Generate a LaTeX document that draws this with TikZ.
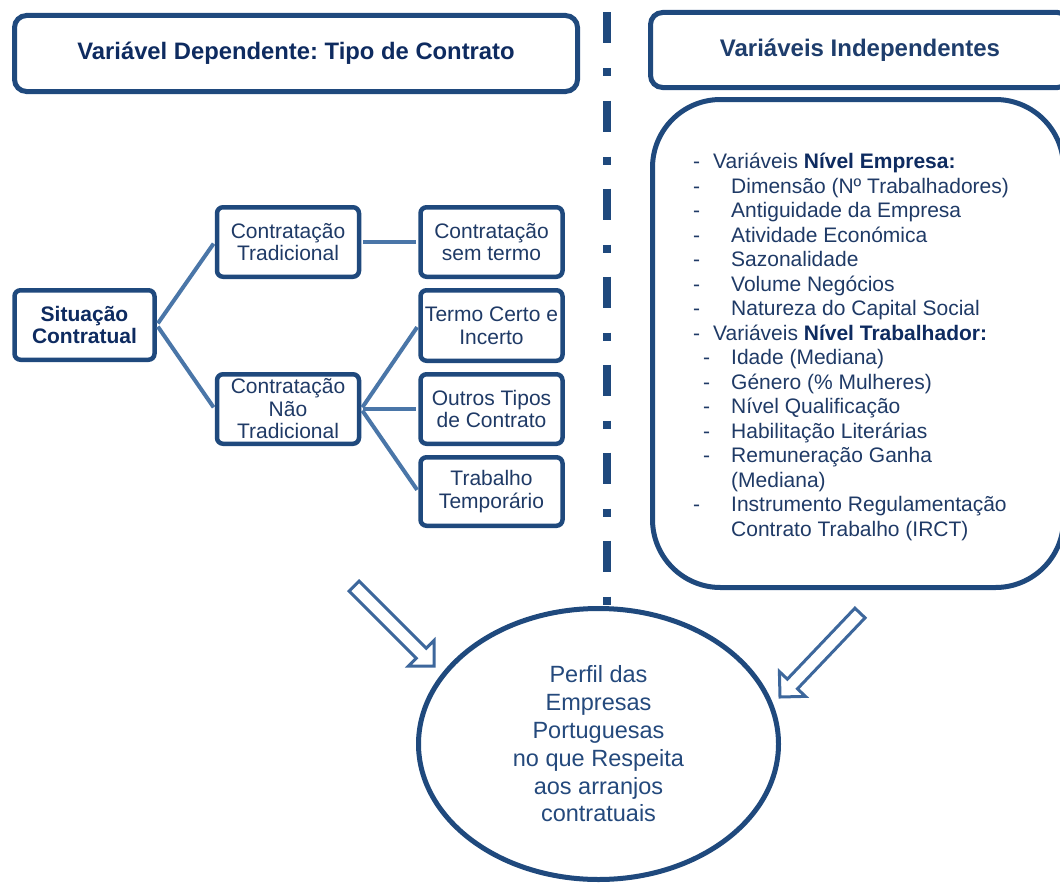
\documentclass[tikz,border=0pt]{standalone}
\usepackage{fontspec}
\setmainfont{Liberation Sans}
\usetikzlibrary{shapes.geometric}
\definecolor{boxblue}{HTML}{1F497D}
\definecolor{connblue}{HTML}{4A76A8}
\definecolor{hdrtext}{HTML}{0E2B60}
\definecolor{hdrtexttwo}{HTML}{1E3D6C}
\definecolor{bodytext}{HTML}{1F3A66}
\definecolor{elltext}{HTML}{24497C}
\definecolor{arrowblue}{HTML}{3D679C}
\frenchspacing
\begin{document}
\begin{tikzpicture}[x=1pt,y=-1pt,
  hdr/.style={draw=boxblue, line width=5pt, rounded corners=12pt, fill=white, inner sep=0pt},
  tbox/.style={draw=boxblue, line width=4.5pt, rounded corners=6pt, fill=white, inner sep=0pt, align=center, text=bodytext, minimum width=142pt, minimum height=69.5pt, font=\fontsize{21}{22.7}\selectfont},
  conn/.style={draw=connblue, line width=4pt, shorten <=2pt, shorten >=2pt},
  hollow/.style={draw=arrowblue, line width=3pt, fill=white, line join=miter},
  dashdot/.style={draw=boxblue, line width=8.5pt, dash pattern=on 31pt off 25pt on 8pt off 24pt},
]
\useasboundingbox (0,0) rectangle (1060,883);

% headers
\node[hdr, text=hdrtext, minimum width=563pt, minimum height=76pt, font=\fontsize{23.8}{27}\selectfont\bfseries] (hl) at (296,53.5) {Variável Dependente: Tipo de Contrato};
\node[hdr, text=hdrtexttwo, minimum width=419pt, minimum height=75pt, font=\fontsize{24}{27}\selectfont\bfseries] (hr) at (860,50) {Variáveis Independentes};

% independent variables box
\node[draw=boxblue, line width=5pt, rounded corners=68pt, fill=white, inner sep=0pt, minimum width=411pt, minimum height=488pt] (ind) at (858,343.5) {};
\node[anchor=north west, inner sep=0pt, align=left, text=bodytext, font=\fontsize{21}{24.5}\selectfont] (lst) at (693,153) {%
\makebox[20pt][l]{-}Variáveis \textbf{\color{hdrtext}Nível Empresa:}\\
\makebox[38pt][l]{-}Dimensão (Nº Trabalhadores)\\
\makebox[38pt][l]{-}Antiguidade da Empresa\\
\makebox[38pt][l]{-}Atividade Económica\\
\makebox[38pt][l]{-}Sazonalidade\\
\makebox[38pt][l]{-}Volume Negócios\\
\makebox[38pt][l]{-}Natureza do Capital Social\\
\makebox[20pt][l]{-}Variáveis \textbf{\color{hdrtext}Nível Trabalhador:}\\
\hspace*{10pt}\makebox[28pt][l]{-}Idade (Mediana)\\
\hspace*{10pt}\makebox[28pt][l]{-}Género (\% Mulheres)\\
\hspace*{10pt}\makebox[28pt][l]{-}Nível Qualificação\\
\hspace*{10pt}\makebox[28pt][l]{-}Habilitação Literárias\\
\hspace*{10pt}\makebox[28pt][l]{-}Remuneração Ganha\\
\hspace*{38pt}(Mediana)\\
\makebox[38pt][l]{-}Instrumento Regulamentação\\
\hspace*{38pt}Contrato Trabalho (IRCT)};

% tree
\node[tbox, minimum width=140pt, text=hdrtext, font=\fontsize{21}{22.5}\selectfont\bfseries] (sit) at (84.5,325) {Situação\\Contratual};
\node[tbox] (ct) at (288,242) {Contratação\\Tradicional};
\node[tbox] (st) at (491.5,242) {Contratação\\sem termo};
\node[tbox, minimum height=70.5pt] (tc) at (491.5,325.5) {Termo Certo e\\Incerto};
\node[tbox, font=\fontsize{21}{22.5}\selectfont] (cnt) at (288,409) {Contratação\\Não\\Tradicional};
\node[tbox] (ot) at (491.5,409) {Outros Tipos\\de Contrato};
\node[tbox, minimum height=68.5pt] (tt) at (491.5,491.5) {Trabalho\\Temporário};

\draw[conn] (sit.east) -- (ct.west);
\draw[conn] (sit.east) -- (cnt.west);
\draw[conn] (ct.east) -- (st.west);
\draw[conn] (cnt.east) -- (tc.west);
\draw[conn] (cnt.east) -- (ot.west);
\draw[conn] (cnt.east) -- (tt.west);

% ellipse
\node[ellipse, draw=boxblue, line width=5pt, fill=white, inner sep=0pt, minimum width=360pt, minimum height=271pt, align=center, text=elltext, font=\fontsize{23.5}{27.8}\selectfont] (ell) at (598.5,744) {Perfil das\\Empresas\\Portuguesas\\no que Respeita\\aos arranjos\\contratuais};

% dash-dot separator
\coordinate (dtop) at (607,12.5);
\draw[dashdot] (dtop) -- (dtop |- ell.north);

% hollow arrows
\begin{scope}[shift={(434,666)}, rotate=-45]
  \draw[hollow] (0,0) -- (-18,-18) -- (-18,-7) -- (-113,-7) -- (-113,7) -- (-18,7) -- (-18,18) -- cycle;
\end{scope}
\begin{scope}[shift={(780,697)}, rotate=226.4]
  \draw[hollow] (0,0) -- (-18,-18) -- (-18,-7) -- (-116,-7) -- (-116,7) -- (-18,7) -- (-18,18) -- cycle;
\end{scope}
\end{tikzpicture}
\end{document}
